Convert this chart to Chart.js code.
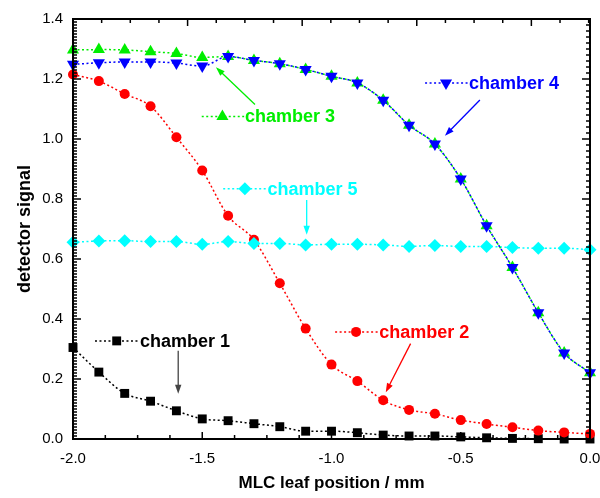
<!DOCTYPE html>
<html>
<head>
<meta charset="utf-8">
<title>detector signal vs MLC leaf position</title>
<script src="https://cdn.jsdelivr.net/npm/chart.js@4.4.1/dist/chart.umd.min.js"></script>
<style>
    html, body { margin: 0; padding: 0; background: #ffffff; }
    #wrap { width: 600px; height: 498px; position: relative; }
</style>
</head>
<body>
<div id="wrap"><canvas id="signal-chart"></canvas></div>
<script>
// Leaf positions (mm)
const positions = [-2.0, -1.9, -1.8, -1.7, -1.6, -1.5, -1.4, -1.3, -1.2, -1.1, -1.0,
                   -0.9, -0.8, -0.7, -0.6, -0.5, -0.4, -0.3, -0.2, -0.1, 0.0];

// Detector signal for each chamber
const chamber1 = [0.305, 0.223, 0.152, 0.126, 0.094, 0.067, 0.061, 0.051, 0.041, 0.026, 0.026,
                  0.021, 0.013, 0.010, 0.010, 0.007, 0.004, 0.002, 0.001, 0.000, 0.000];
const chamber2 = [1.215, 1.193, 1.150, 1.109, 1.006, 0.895, 0.744, 0.664, 0.519, 0.368, 0.248,
                  0.193, 0.129, 0.097, 0.084, 0.063, 0.050, 0.039, 0.028, 0.022, 0.017];
const chamber3 = [1.297, 1.298, 1.297, 1.291, 1.285, 1.272, 1.275, 1.262, 1.251, 1.232, 1.209,
                  1.187, 1.129, 1.046, 0.983, 0.867, 0.711, 0.572, 0.421, 0.287, 0.221];
const chamber4 = [1.249, 1.254, 1.257, 1.257, 1.253, 1.243, 1.275, 1.262, 1.251, 1.232, 1.209,
                  1.187, 1.129, 1.046, 0.983, 0.867, 0.711, 0.572, 0.421, 0.287, 0.221];
const chamber5 = [0.656, 0.660, 0.661, 0.658, 0.658, 0.649, 0.658, 0.652, 0.652, 0.647, 0.649,
                  0.649, 0.647, 0.642, 0.645, 0.642, 0.642, 0.638, 0.636, 0.636, 0.631];

// Axis ticks
const xTicks = [-2.0, -1.5, -1.0, -0.5, 0.0];
const yTicks = [0.0, 0.2, 0.4, 0.6, 0.8, 1.0, 1.2, 1.4];

// Top frame tick spacing (in x units), as drawn in the original
const TOP_MAJOR = 0.4433;

const FONT = '"Liberation Sans", Arial, Helvetica, sans-serif';

function toPoints(values) {
    return values.map((v, i) => ({ x: positions[i], y: v }));
}

function series(label, values, color, style, radius, rotation, order) {
    return {
        label: label,
        data: toPoints(values),
        borderColor: color,
        backgroundColor: color,
        pointBackgroundColor: color,
        pointBorderColor: color,
        pointBorderWidth: 0,
        pointStyle: style,
        pointRadius: radius,
        pointRotation: rotation,
        borderWidth: 1.5,
        borderDash: [2, 2.5],
        cubicInterpolationMode: 'monotone',
        clip: false,
        order: order
    };
}

const datasets = [
    series('chamber 1', chamber1, '#000000', 'rect', 6.3, 0, 4),
    series('chamber 2', chamber2, '#ff0000', 'circle', 5, 0, 3),
    series('chamber 3', chamber3, '#00ee00', 'triangle', 7, 0, 1),
    series('chamber 4', chamber4, '#0000ff', 'triangle', 7, 180, 0),
    series('chamber 5', chamber5, '#00ffff', 'rectRot', 6.5, 0, 2)
];

// Labels inside the plot: legend stroke + marker + text, plus an arrow to the curve
// (all in data units)
const notes = [
    { series: 0, lineFrom: -1.915, lineTo: -1.749, markX: -1.831, textX: -1.741, y: 0.327,
      arrowColor: '#444444', arrow: [-1.593, 0.294, -1.593, 0.151] },
    { series: 1, lineFrom: -0.986, lineTo: -0.820, markX: -0.905, textX: -0.815, y: 0.357,
      arrowColor: '#ff0000', arrow: [-0.694, 0.318, -0.790, 0.156] },
    { series: 2, lineFrom: -1.502, lineTo: -1.338, markX: -1.422, textX: -1.335, y: 1.075,
      arrowColor: '#00ee00', arrow: [-1.296, 1.115, -1.447, 1.239] },
    { series: 3, lineFrom: -0.638, lineTo: -0.472, markX: -0.557, textX: -0.468, y: 1.187,
      arrowColor: '#0000ff', arrow: [-0.426, 1.130, -0.561, 1.011] },
    { series: 4, lineFrom: -1.419, lineTo: -1.253, markX: -1.335, textX: -1.248, y: 0.834,
      arrowColor: '#00ffff', arrow: [-1.096, 0.797, -1.096, 0.681] }
];

// Draw a marker the same way Chart.js draws points
function marker(ctx, ds, px, py) {
    ctx.save();
    ctx.fillStyle = ds.pointBackgroundColor;
    ctx.strokeStyle = ds.pointBorderColor;
    ctx.lineWidth = 0;
    Chart.helpers.drawPoint(ctx, {
        pointStyle: ds.pointStyle,
        radius: ds.pointRadius,
        rotation: ds.pointRotation,
        borderWidth: 0
    }, px, py);
    ctx.restore();
}

function arrow(ctx, x1, y1, x2, y2, color) {
    const ang = Math.atan2(y2 - y1, x2 - x1);
    const head = 9, half = 3.2;
    ctx.save();
    ctx.strokeStyle = color;
    ctx.fillStyle = color;
    ctx.lineWidth = 1.3;
    ctx.beginPath();
    ctx.moveTo(x1, y1);
    ctx.lineTo(x2 - Math.cos(ang) * head * 0.8, y2 - Math.sin(ang) * head * 0.8);
    ctx.stroke();
    ctx.beginPath();
    ctx.moveTo(x2, y2);
    ctx.lineTo(x2 - Math.cos(ang) * head - Math.sin(ang) * half,
               y2 - Math.sin(ang) * head + Math.cos(ang) * half);
    ctx.lineTo(x2 - Math.cos(ang) * head + Math.sin(ang) * half,
               y2 - Math.sin(ang) * head - Math.cos(ang) * half);
    ctx.closePath();
    ctx.fill();
    ctx.restore();
}

// Box frame with inward ticks on all four sides, then the labels
const framePlugin = {
    id: 'framePlugin',
    afterDatasetsDraw(chart) {
        const ctx = chart.ctx;
        const xs = chart.scales.x;
        const ys = chart.scales.y;
        const a = chart.chartArea;

        ctx.save();
        ctx.strokeStyle = '#000000';
        ctx.lineWidth = 1.5;
        ctx.beginPath();
        // bottom: minor every 0.125, major every 0.5
        for (let i = 0; i <= 16; i++) {
            const px = xs.getPixelForValue(-2 + i * 0.125);
            ctx.moveTo(px, a.bottom);
            ctx.lineTo(px, a.bottom - (i % 4 === 0 ? 7 : 4));
        }
        // top: its own spacing
        for (let i = 0; -2 + i * TOP_MAJOR / 4 <= 0.001; i++) {
            const px = xs.getPixelForValue(-2 + i * TOP_MAJOR / 4);
            ctx.moveTo(px, a.top);
            ctx.lineTo(px, a.top + (i % 4 === 0 ? 7 : 4));
        }
        // left: minor every 0.01
        for (let i = 0; i <= 140; i++) {
            const py = ys.getPixelForValue(i * 0.01);
            ctx.moveTo(a.left, py);
            ctx.lineTo(a.left + (i % 20 === 0 ? 8 : 4), py);
        }
        // right: minor every 0.02
        for (let i = 0; i <= 70; i++) {
            const py = ys.getPixelForValue(i * 0.02);
            ctx.moveTo(a.right, py);
            ctx.lineTo(a.right - (i % 10 === 0 ? 8 : 4), py);
        }
        ctx.stroke();

        ctx.lineWidth = 2;
        ctx.strokeRect(a.left, a.top, a.right - a.left, a.bottom - a.top);
        ctx.restore();

        // in-plot labels
        notes.forEach(n => {
            const ds = chart.data.datasets[n.series];
            const py = ys.getPixelForValue(n.y);

            ctx.save();
            ctx.strokeStyle = ds.borderColor;
            ctx.lineWidth = 1.5;
            ctx.setLineDash(ds.borderDash);
            ctx.beginPath();
            ctx.moveTo(xs.getPixelForValue(n.lineFrom), py);
            ctx.lineTo(xs.getPixelForValue(n.lineTo), py);
            ctx.stroke();
            ctx.restore();

            marker(ctx, ds, xs.getPixelForValue(n.markX), py);

            ctx.save();
            ctx.fillStyle = ds.borderColor;
            ctx.font = 'bold 18px ' + FONT;
            ctx.textAlign = 'left';
            ctx.textBaseline = 'middle';
            ctx.fillText(ds.label, xs.getPixelForValue(n.textX), py + 1);
            ctx.restore();

            arrow(ctx,
                  xs.getPixelForValue(n.arrow[0]), ys.getPixelForValue(n.arrow[1]),
                  xs.getPixelForValue(n.arrow[2]), ys.getPixelForValue(n.arrow[3]),
                  n.arrowColor);
        });
    }
};

const ctx = document.getElementById('signal-chart').getContext('2d');
const chart = new Chart(ctx, {
    type: 'line',
    data: { datasets: datasets },
    plugins: [framePlugin],
    options: {
        responsive: true,
        maintainAspectRatio: false,
        animation: false,
        devicePixelRatio: 1,
        layout: { padding: { left: 0, right: 10, top: 16, bottom: 0 } },
        plugins: {
            legend: { display: false },
            tooltip: { enabled: false }
        },
        scales: {
            x: {
                type: 'linear',
                min: -2,
                max: 0,
                afterBuildTicks: scale => {
                    scale.ticks = xTicks.map(v => ({ value: v }));
                },
                afterFit: scale => {
                    scale.height = 59;
                    scale.paddingLeft = 0;
                    scale.paddingRight = 0;
                },
                grid: { display: false, drawTicks: false },
                border: { display: false },
                ticks: {
                    color: '#000000',
                    padding: 11,
                    maxRotation: 0,
                    autoSkip: false,
                    font: { family: FONT, size: 15 },
                    callback: v => Number(v).toFixed(1)
                },
                title: {
                    display: true,
                    text: 'MLC leaf position / mm',
                    color: '#000000',
                    padding: { top: 0, bottom: 4 },
                    font: { family: FONT, size: 17, weight: 'bold' }
                }
            },
            y: {
                type: 'linear',
                min: 0,
                max: 1.4,
                afterBuildTicks: scale => {
                    scale.ticks = yTicks.map(v => ({ value: v }));
                },
                afterFit: scale => {
                    scale.width = 73;
                },
                grid: { display: false, drawTicks: false },
                border: { display: false },
                ticks: {
                    color: '#000000',
                    padding: 10,
                    autoSkip: false,
                    font: { family: FONT, size: 15 },
                    callback: v => Number(v).toFixed(1)
                },
                title: {
                    display: true,
                    text: 'detector signal',
                    color: '#000000',
                    padding: { top: 14, bottom: 0 },
                    font: { family: FONT, size: 18, weight: 'bold' }
                }
            }
        }
    }
});
</script>
</body>
</html>
